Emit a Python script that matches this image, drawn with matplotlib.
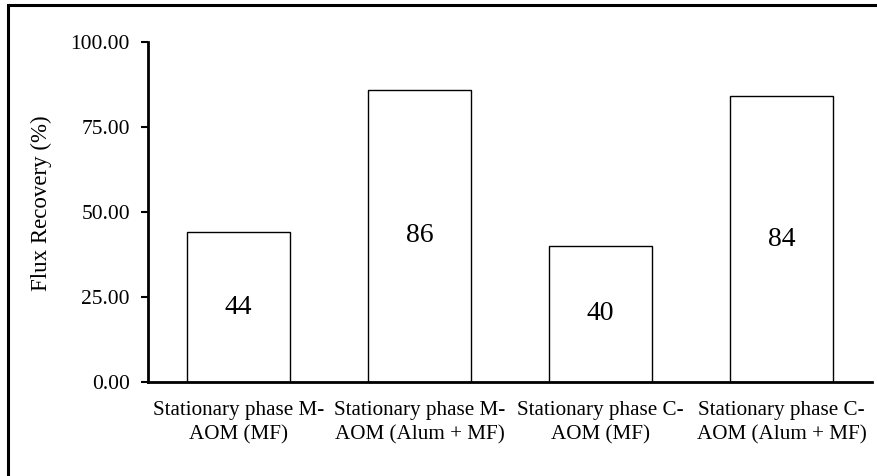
import matplotlib.pyplot as plt
from matplotlib.patches import Rectangle

categories = ['Stationary phase M-\nAOM (MF)', 'Stationary phase M-\nAOM (Alum + MF)',
              'Stationary phase C-\nAOM (MF)', 'Stationary phase C-\nAOM (Alum + MF)']
recovery = [44, 86, 40, 84]
yticks = [0, 25, 50, 75, 100]

plt.rcParams['font.family'] = ['Liberation Serif', 'DejaVu Serif']

fig = plt.figure(figsize=(8.78, 4.76), dpi=100)
ax = fig.add_axes([148/878, 1-382/476, 724/878, 340/476])

x = [i + 0.5 for i in range(len(recovery))]
ax.bar(x, recovery, width=0.57, color='white', edgecolor='black', linewidth=1)
for xi, v in zip(x, recovery):
    ax.text(xi, v/2, str(v), ha='center', va='center', fontsize=20)

ax.set_xlim(0, 4)
ax.set_ylim(0, 100)
ax.set_xticks(x)
ax.set_xticklabels(categories, fontsize=15.2, linespacing=1.35)
ax.tick_params(axis='x', length=0, pad=14)
ax.set_yticks(yticks)
ax.set_yticklabels(['%.2f' % t for t in yticks], fontsize=15.5)
ax.tick_params(axis='y', length=5, width=1.5, direction='out', pad=8)
ax.set_ylabel('Flux Recovery (%)', fontsize=16.5)
ax.yaxis.set_label_coords(-0.132, 0.526)
for s in ['top', 'right']:
    ax.spines[s].set_visible(False)
for s in ['left', 'bottom']:
    ax.spines[s].set_linewidth(2)

# page border, only the top and left edges lie inside the picture
fig.patches.append(Rectangle((8/878, -10/476), 900/878, 481/476, transform=fig.transFigure,
                             fill=False, edgecolor='black', linewidth=2.2))

fig.savefig('out.png', dpi=100)
